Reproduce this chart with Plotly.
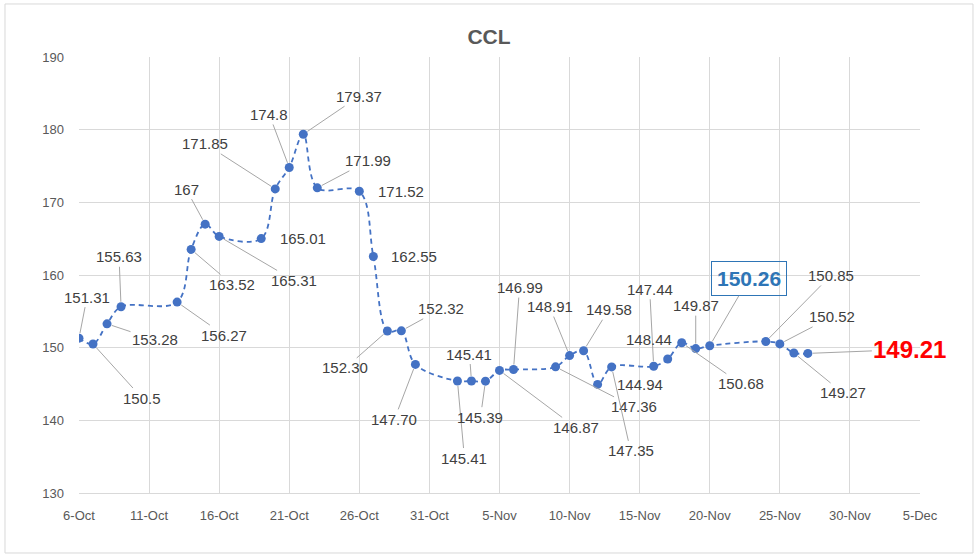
import plotly.graph_objects as go

# CCL quotes, Oct-Nov 2020
dates = ['2020-10-06', '2020-10-07', '2020-10-08', '2020-10-09', '2020-10-13',
         '2020-10-14', '2020-10-15', '2020-10-16', '2020-10-19', '2020-10-20',
         '2020-10-21', '2020-10-22', '2020-10-23', '2020-10-26', '2020-10-27',
         '2020-10-28', '2020-10-29', '2020-10-30', '2020-11-02', '2020-11-03',
         '2020-11-04', '2020-11-05', '2020-11-06', '2020-11-09', '2020-11-10',
         '2020-11-11', '2020-11-12', '2020-11-13', '2020-11-16', '2020-11-17',
         '2020-11-18', '2020-11-19', '2020-11-20', '2020-11-24', '2020-11-25',
         '2020-11-26', '2020-11-27']
ccl = [151.31, 150.5, 153.28, 155.63, 156.27, 163.52, 167, 165.31, 165.01, 171.85,
       174.8, 179.37, 171.99, 171.52, 162.55, 152.30, 152.32, 147.70, 145.41, 145.41,
       145.39, 146.87, 146.99, 147.36, 148.91, 149.58, 144.94, 147.35, 147.44, 148.44,
       150.68, 149.87, 150.26, 150.85, 150.52, 149.27, 149.21]
labels = ['151.31', '150.5', '153.28', '155.63', '156.27', '163.52', '167', '165.31',
          '165.01', '171.85', '174.8', '179.37', '171.99', '171.52', '162.55', '152.30',
          '152.32', '147.70', '145.41', '145.41', '145.39', '146.87', '146.99', '147.36',
          '148.91', '149.58', '144.94', '147.35', '147.44', '148.44', '150.68', '149.87',
          '150.26', '150.85', '150.52', '149.27', '149.21']

# where each data label sits relative to its point (px), like the Excel layout
offsets = [(8, -41), (49, 54), (48, 16), (-2, -50), (47, 33), (41, 35), (-19, -35),
           (75, 44), (42, 0), (-70, -45), (-20, -53), (56, -38), (51, -27), (42, 0),
           (41, 0), (-42, 37), (40, -22), (-21, 55), (7, 77), (-2, -27), (-5, 36),
           (76, 57), (6, -82), (78, 40), (-20, -49), (25, -41), (42, 0), (19, 84),
           (-4, -77), (-19, -20), (59, 41), (0, -43), (39, -67), (65, -66), (52, -27),
           (49, 40), (102, -4)]
no_leader = {8, 13, 14, 26, 29}
boxed = 32   # 150.26
last = 36    # 149.21

BLUE = '#4472C4'
GRID = '#D9D9D9'
FONT = 'Liberation Sans'

fig = go.Figure()
fig.add_trace(go.Scatter(
    x=dates, y=ccl, mode='lines+markers',
    line=dict(color=BLUE, width=1.8, dash='5px,4px', shape='spline', smoothing=1),
    marker=dict(color=BLUE, size=9),
    hoverinfo='x+y'))

annotations = []
for i, (d, v, t) in enumerate(zip(dates, ccl, labels)):
    dx, dy = offsets[i]
    font = dict(family=FONT, size=15, color='#404040')
    extra = {}
    if i == boxed:
        font = dict(family=FONT, size=21, color='#2E75B6', weight='bold')
        extra = dict(bordercolor='#2E75B6', borderwidth=1, borderpad=5)
    elif i == last:
        font = dict(family=FONT, size=24, color='#FF0000', weight='bold')
    if i in no_leader:
        annotations.append(dict(x=d, y=v, text=t, showarrow=False, font=font,
                                xshift=dx, yshift=-dy, **extra))
    else:
        annotations.append(dict(x=d, y=v, text=t, showarrow=True, arrowhead=0,
                                arrowwidth=1, arrowcolor='#A6A6A6', standoff=5,
                                ax=dx, ay=dy, font=font, **extra))

fig.update_layout(
    width=980, height=557,
    margin=dict(l=79, r=60, t=57, b=64),
    paper_bgcolor='white', plot_bgcolor='white',
    showlegend=False,
    title=dict(text='<b>CCL</b>', x=0.499, xanchor='center', y=0.934, yanchor='middle',
               font=dict(family=FONT, size=21, color='#595959')),
    annotations=annotations,
    shapes=[dict(type='rect', xref='paper', yref='paper',
                 x0=-0.088, x1=1.063, y0=-0.1376, y1=1.1216,
                 line=dict(color=GRID, width=1), layer='below')],
)
fig.update_xaxes(type='date', range=['2020-10-06', '2020-12-05'],
                 tick0='2020-10-06', dtick=5 * 86400000, tickformat='%-d-%b',
                 showgrid=True, gridcolor=GRID, gridwidth=1,
                 showline=True, linecolor=GRID, linewidth=1,
                 ticks='', ticklabelstandoff=10,
                 tickfont=dict(family=FONT, size=13, color='#595959'))
fig.update_yaxes(range=[130, 190], dtick=10,
                 showgrid=True, gridcolor=GRID, gridwidth=1,
                 zeroline=False, showline=False, ticks='', ticklabelstandoff=14,
                 tickfont=dict(family=FONT, size=13, color='#595959'))

# page body has a default 8px margin; drop it so the chart sits at 0,0
fig.write_html('out.html', config={'displayModeBar': False},
               post_script="document.body.style.margin='0';")
